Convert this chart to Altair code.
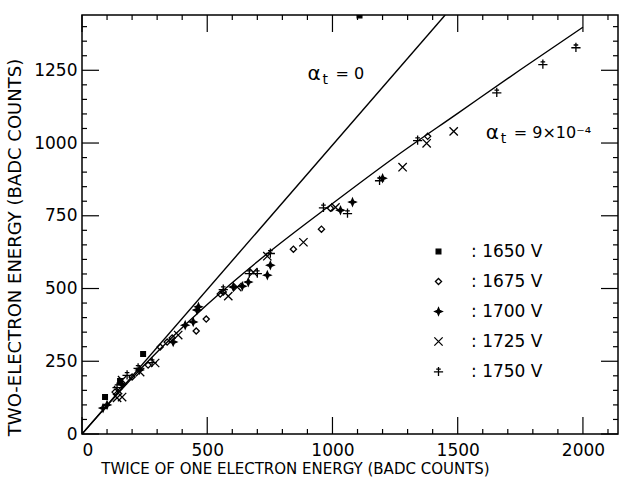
import altair as alt
import pandas as pd

FONT = "DejaVu Sans"

series = ["1650 V", "1675 V", "1700 V", "1725 V", "1750 V"]

x_1650 = [92, 152, 244, 1108]
y_1650 = [127, 182, 275, 1438]

x_1675 = [132, 200, 264, 312, 340, 360, 456, 496, 552, 564, 844, 956, 992, 1380]
y_1675 = [144, 196, 237, 299, 316, 330, 354, 395, 481, 488, 635, 704, 776, 1023]

x_1700 = [84, 100, 160, 230, 364, 412, 444, 459, 465, 604, 640, 664, 740, 752, 1032, 1080, 1200]
y_1700 = [89, 100, 170, 220, 316, 374, 385, 426, 437, 505, 508, 522, 546, 580, 769, 797, 879]

x_1725 = [140, 160, 144, 160, 232, 292, 384, 584, 620, 684, 740, 884, 1012, 1280, 1376, 1484]
y_1725 = [124, 127, 151, 185, 213, 244, 340, 474, 505, 556, 611, 659, 779, 917, 999, 1040]

x_1750 = [140, 180, 224, 280, 564, 668, 700, 752, 964, 1060, 1188, 1340, 1656, 1840, 1972]
y_1750 = [161, 203, 227, 247, 498, 553, 553, 622, 779, 759, 872, 1010, 1174, 1271, 1329]

# fitted lines
line0_x = [0, 1450]
line0_y = [0, 1440]
fit_x = [0, 250, 500, 750, 1000, 1250, 1500, 1750, 2000]
fit_y = [0, 238, 445, 627, 792, 952, 1102, 1252, 1398]

# annotations
ann_x = [900, 1612]
ann_y = [1236, 1034]
ann_rest = ["= 0", "= 9×10⁻⁴"]

# axis ticks
x_major = [0, 500, 1000, 1500, 2000]
x_minor = [v for v in range(100, 2140, 100) if v % 500 != 0]
y_major = [0, 250, 500, 750, 1000, 1250]
y_minor = [v for v in range(50, 1440, 50) if v % 250 != 0]

W, H = 536, 419
XDOM = [0, 2140]
YDOM = [0, 1440]

rows = []
for name, xs, ys in [("1650 V", x_1650, y_1650), ("1675 V", x_1675, y_1675),
                     ("1700 V", x_1700, y_1700), ("1725 V", x_1725, y_1725),
                     ("1750 V", x_1750, y_1750)]:
    for a, b in zip(xs, ys):
        rows.append({"series": name, "x": a, "y": b})
pts = pd.DataFrame(rows)

star = "M0,-1L0.3,-0.3L1,0L0.3,0.3L0,1L-0.3,0.3L-1,0L-0.3,-0.3Z"
xmark = "M-1,-1L1,1M-1,1L1,-1"
crossbar = "M0,-1L0,1M-1,0.1L1,0.1M-0.5,-0.5L0.5,-0.5"

xs_ = alt.Scale(domain=XDOM, nice=False, zero=False)
ys_ = alt.Scale(domain=YDOM, nice=False, zero=False)

x_axis = alt.Axis(values=x_major, format="d", grid=False, domain=False, ticks=False,
                  labelFont=FONT, labelFontSize=17, labelColor="black", labelPadding=8,
                  title="TWICE OF ONE ELECTRON ENERGY (BADC COUNTS)", titleFont=FONT,
                  titleFontSize=15, titleFontWeight="normal", titleColor="black",
                  titleX=213, titleY=34, titleAlign="center", titleBaseline="middle")
y_axis = alt.Axis(values=y_major, format="d", grid=False, domain=False, ticks=False,
                  labelFont=FONT, labelFontSize=17, labelColor="black", labelPadding=5,
                  title="TWO-ELECTRON ENERGY (BADC COUNTS)", titleFont=FONT,
                  titleFontSize=18, titleFontWeight="normal", titleColor="black",
                  titleX=-67, titleY=232, titleAngle=270, titleAlign="center",
                  titleBaseline="middle")

def X(field="x"):
    return alt.X(f"{field}:Q", scale=xs_, axis=x_axis)

def Y(field="y"):
    return alt.Y(f"{field}:Q", scale=ys_, axis=y_axis)

LEG = dict(title=None, labelExpr="': ' + datum.label")

points = alt.Chart(pts).mark_point(filled=False, strokeWidth=1.3, opacity=1,
                                   clip=True).encode(
    x=X(), y=Y(),
    shape=alt.Shape("series:N", scale=alt.Scale(domain=series,
                    range=["square", "diamond", star, xmark, crossbar]),
                    legend=alt.Legend(**LEG)),
    fill=alt.Fill("series:N", scale=alt.Scale(domain=series,
                  range=["black", "transparent", "black", "transparent", "transparent"]),
                  legend=alt.Legend(**LEG)),
    stroke=alt.Stroke("series:N", scale=alt.Scale(domain=series,
                      range=["black", "black", "black", "black", "black"]),
                      legend=alt.Legend(**LEG)),
    size=alt.Size("series:N", scale=alt.Scale(domain=series, range=[22, 85, 100, 64, 160]),
                  legend=alt.Legend(**LEG)),
)

def lines(xv, yv):
    df = pd.DataFrame({"x": xv, "y": yv})
    return alt.Chart(df).mark_line(color="black", strokeWidth=1.4, clip=True,
                                   interpolate="monotone").encode(x=X(), y=Y())

ann_df = pd.DataFrame({"x": ann_x, "y": ann_y, "rest": ann_rest})
ann_base = alt.Chart(ann_df).encode(x=X(), y=Y())
alpha = ann_base.mark_text(align="left", baseline="middle", font=FONT, fontSize=20,
                           color="black").encode(text=alt.value("α"))
sub_t = ann_base.mark_text(align="left", baseline="middle", font=FONT, fontSize=14,
                           color="black", dx=15, dy=6).encode(text=alt.value("t"))
rest = ann_base.mark_text(align="left", baseline="middle", font=FONT, fontSize=16,
                          color="black", dx=28).encode(text="rest:N")

def xticks(vals, length, top):
    df = pd.DataFrame({"x": vals})
    if top:
        yy, yy2 = 0, length
    else:
        yy, yy2 = H, H - length
    return alt.Chart(df).mark_rule(color="black", strokeWidth=1.2).encode(
        x=X(), y=alt.value(yy), y2=alt.value(yy2))

def yticks(vals, length, right):
    df = pd.DataFrame({"y": vals})
    if right:
        xx, xx2 = W, W - length
    else:
        xx, xx2 = 0, length
    return alt.Chart(df).mark_rule(color="black", strokeWidth=1.2).encode(
        y=Y(), x=alt.value(xx), x2=alt.value(xx2))

MAJ, MIN = 17, 5
chart = alt.layer(
    lines(line0_x, line0_y), lines(fit_x, fit_y),
    xticks(x_major, MAJ, False), xticks(x_minor, MIN, False),
    xticks(x_major, MAJ, True), xticks(x_minor, MIN, True),
    yticks(y_major, MAJ, False), yticks(y_minor, MIN, False),
    yticks(y_major, MAJ, True), yticks(y_minor, MIN, True),
    alpha, sub_t, rest,
    points,
).properties(
    width=W, height=H,
    autosize=alt.AutoSizeParams(type="none"),
    padding={"left": 82, "top": 15, "right": 1, "bottom": 47},
    background="white",
).configure_view(
    stroke="black", strokeWidth=1.5
).configure_legend(
    orient="none", legendX=348, legendY=228, direction="vertical", padding=0,
    labelFont=FONT, labelFontSize=17,
    labelColor="black", labelOffset=24, rowPadding=12,
    symbolStrokeWidth=1.3,
)

chart.save("out.html", embed_options={"renderer": "svg", "actions": False})
